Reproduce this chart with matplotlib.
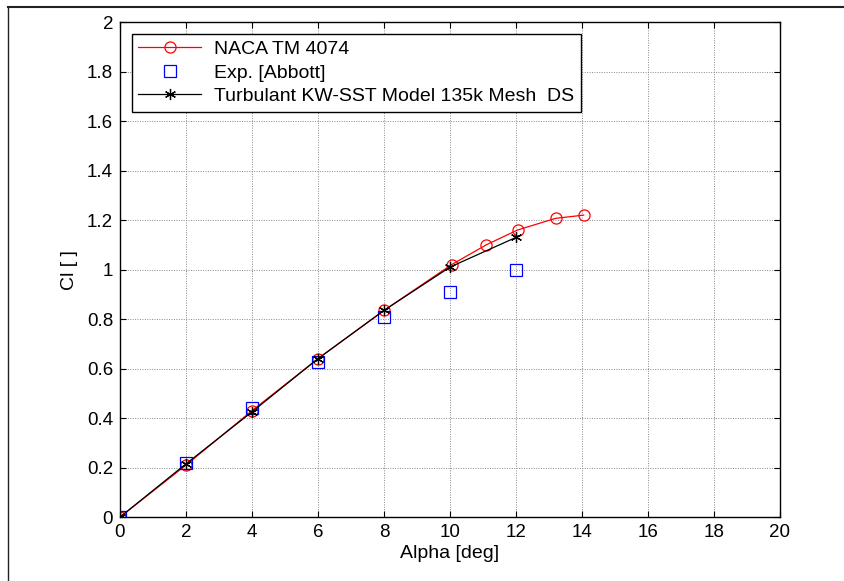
"""Lift coefficient vs angle of attack, MATLAB-style figure."""

import matplotlib
matplotlib.use("Agg")
import matplotlib.pyplot as plt  # noqa: E402
from matplotlib.lines import Line2D  # noqa: E402

plt.rcParams["font.family"] = ["Liberation Sans", "DejaVu Sans"]

# NACA TM 4074 reference data
naca_alpha = [0, 2, 4, 6, 8, 10.05, 11.1, 12.05, 13.2, 14.05]
naca_cl = [0.0, 0.21, 0.43, 0.64, 0.835, 1.02, 1.10, 1.16, 1.207, 1.22]

# Abbott experiment
exp_alpha = [0, 2, 4, 6, 8, 10, 12]
exp_cl = [0.0, 0.22, 0.44, 0.625, 0.81, 0.91, 1.0]

# CFD result
cfd_alpha = [0, 2, 4, 6, 8, 10, 12]
cfd_cl = [0.0, 0.215, 0.425, 0.64, 0.835, 1.01, 1.13]

LABELS = ["NACA TM 4074", "Exp. [Abbott]", "Turbulant KW-SST Model 135k Mesh  DS"]

fig = plt.figure(figsize=(8.45, 5.81), dpi=100)
ax = fig.add_axes([0.142, 0.110, 0.781, 0.852])

ax.plot(naca_alpha, naca_cl, color="red", lw=0.9, marker="o", ms=8,
        mfc="none", mec="red", mew=0.9, label=LABELS[0])
ax.plot(exp_alpha, exp_cl, ls="none", marker="s", ms=8,
        mfc="none", mec="blue", mew=0.9, label=LABELS[1])
ax.plot(cfd_alpha, cfd_cl, color="black", lw=0.9, marker=(6, 2, 0), ms=8,
        mew=0.9, label=LABELS[2])

ax.set_xlim(0, 20)
ax.set_ylim(0, 2)
ax.set_xticks(range(0, 21, 2))
ax.set_yticks([0, 0.2, 0.4, 0.6, 0.8, 1, 1.2, 1.4, 1.6, 1.8, 2])
ax.set_yticklabels(["0", "0.2", "0.4", "0.6", "0.8", "1", "1.2", "1.4", "1.6", "1.8", "2"])
ax.tick_params(direction="in", top=True, right=True, length=4, width=0.8,
               labelsize=13.5, pad=5)
ax.grid(True, linestyle=(0, (1, 1.5)), color="#888888", lw=0.7)
ax.set_axisbelow(True)
for s in ax.spines.values():
    s.set_linewidth(1.0)

ax.set_xlabel("Alpha [deg]", fontsize=14, labelpad=3)
ax.set_ylabel("Cl [ ]", fontsize=14, labelpad=6)

leg = ax.legend(loc="upper left", fontsize=14, fancybox=False, framealpha=1,
                edgecolor="black", borderaxespad=0.6, handlelength=3.2,
                labelspacing=0.3, borderpad=0.35, handletextpad=0.7)
leg.get_frame().set_linewidth(1.0)

# outer frame remnants (top and left edges)
fig.add_artist(Line2D([8 / 845, 1], [1 - 7 / 581, 1 - 7 / 581], color="#222222", lw=1.5,
                      transform=fig.transFigure))
fig.add_artist(Line2D([8 / 845, 8 / 845], [0, 1 - 7 / 581], color="#222222", lw=1.0,
                      transform=fig.transFigure))

fig.savefig("out.png", dpi=100, facecolor="white")
